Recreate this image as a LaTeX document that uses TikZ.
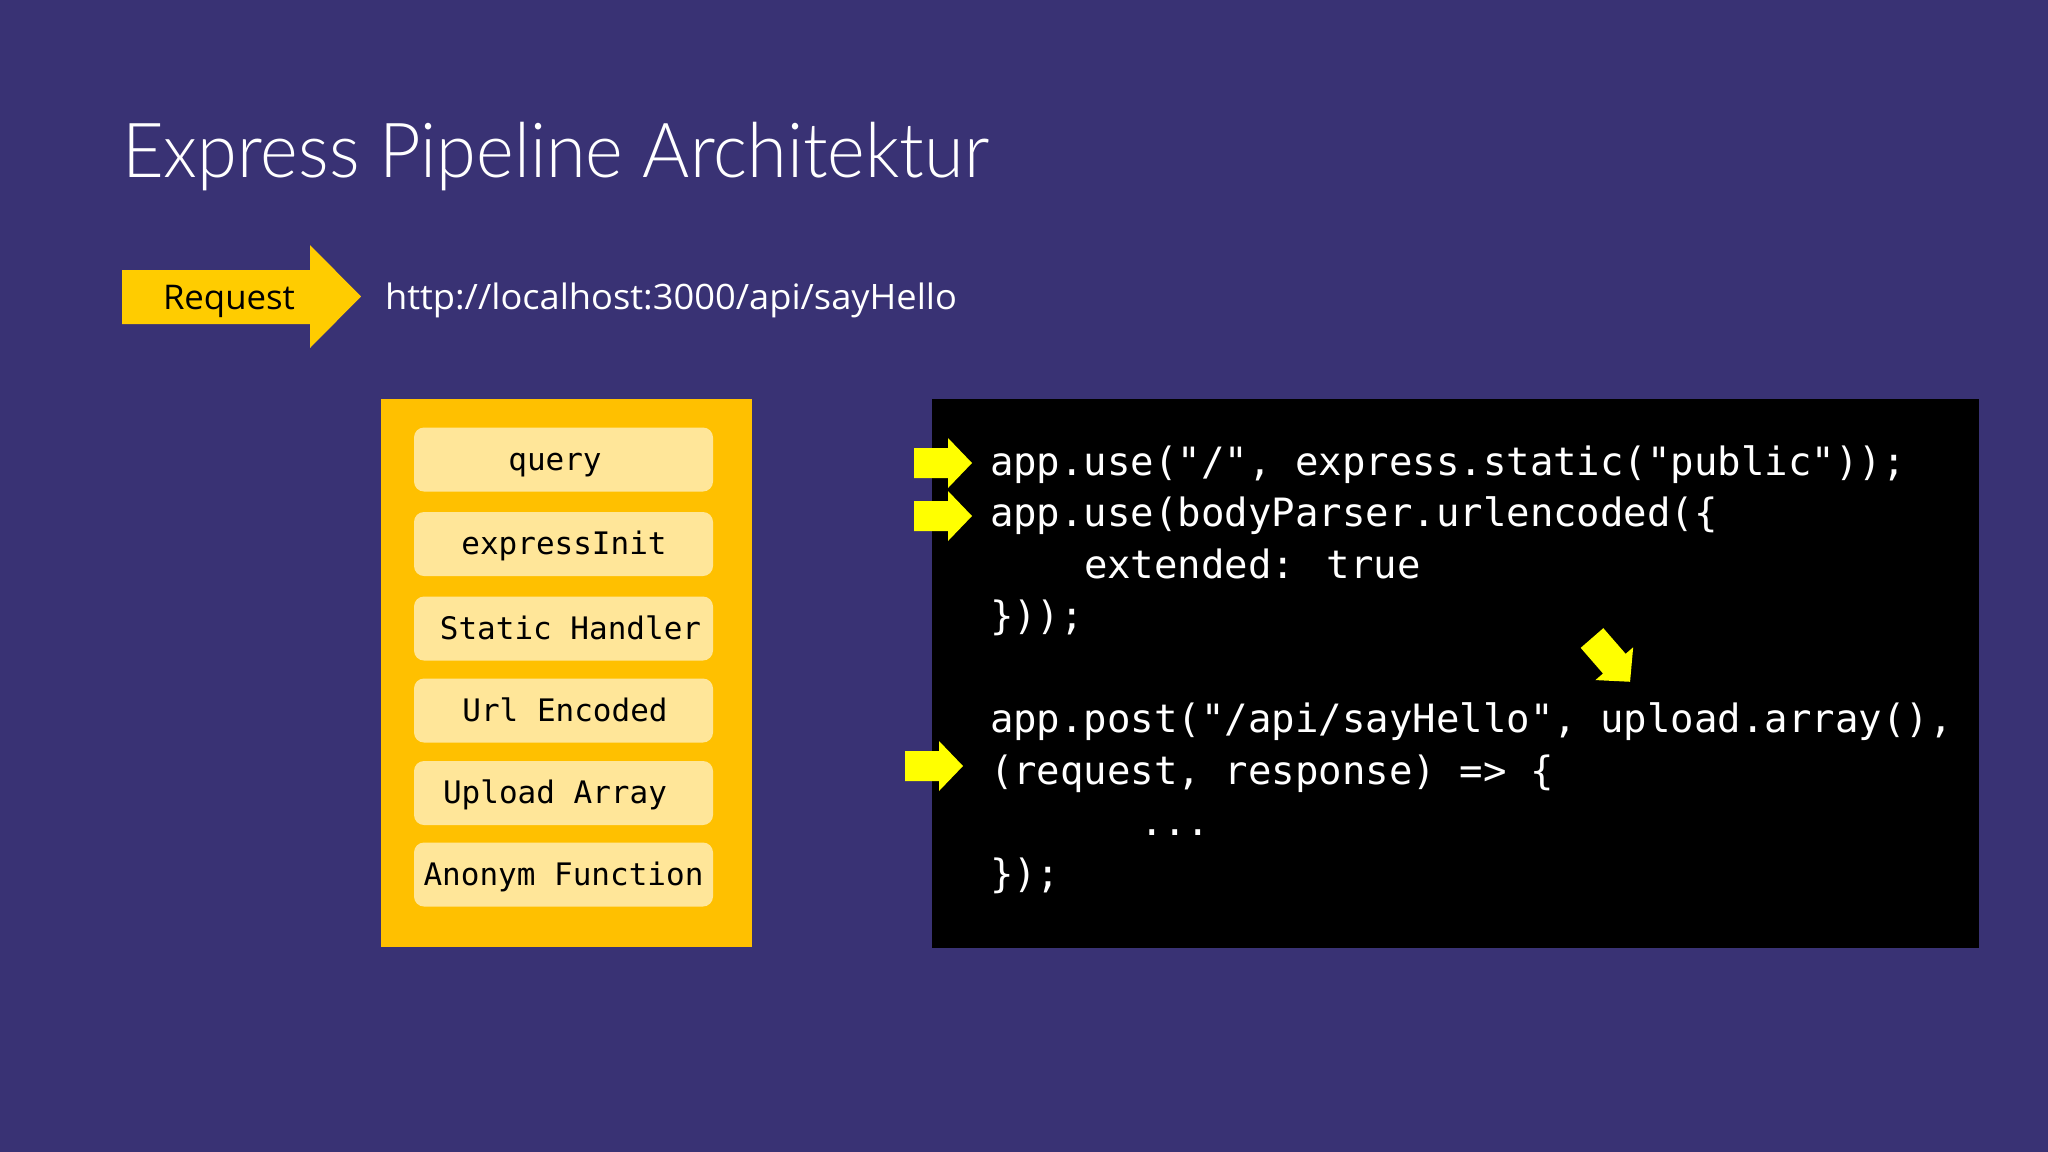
\documentclass[tikz,border=0pt]{standalone}
\usepackage{fontspec}
\setmainfont{Open Sans}
\IfFontExistsTF{Lato Light}{\newfontfamily\titlefont{Lato Light}}{\newfontfamily\titlefont{Open Sans}}
\newfontfamily\codefont{DejaVu Sans Mono}
\usepackage{graphicx}
\definecolor{bgcol}{HTML}{393274}
\definecolor{panelcol}{HTML}{FFC000}
\definecolor{stagecol}{HTML}{FFE699}
\definecolor{reqcol}{HTML}{FFCC00}
\definecolor{markcol}{HTML}{FFFF00}
\newsavebox\fitbox
\newdimen\fitdim
\newcommand\fitw[2]{\sbox\fitbox{#2}\fitdim=\wd\fitbox\pgfmathsetmacro\fitfac{#1/\fitdim}\scalebox{\fitfac}[1]{\usebox\fitbox}}
\newcommand\markarrow[3]{\fill[markcol, shift={(#1,#2)}, rotate=#3] (0,-15) -- (34,-15) -- (34,-25) -- (58,0) -- (34,25) -- (34,15) -- (0,15) -- cycle;}
\begin{document}
\begin{tikzpicture}[x=1pt,y=-1pt,
  txt/.style={inner sep=0pt, outer sep=0pt},
  stagebox/.style={fill=stagecol, rounded corners=10pt, minimum width=299pt, minimum height=64pt, inner sep=0pt},
  stagetext/.style={txt, anchor=base, font=\codefont\fontsize{31}{34}\selectfont, text=black},
  codeline/.style={txt, anchor=base west, font=\codefont\fontsize{39}{42}\selectfont, text=white}]
\useasboundingbox (0,0) rectangle (2048,1151.9);
\fill[bgcol] (-2,-2) rectangle (2050,1154);
% title
\node[txt, anchor=base west, text=white, font=\titlefont\fontsize{76}{80}\selectfont] (title) at (122,177) {\fitw{867}{Express Pipeline Architektur}};
% request arrow
\fill[reqcol] (122,270) -- (310,270) -- (310,245) -- (361,296.5) -- (310,348) -- (310,324) -- (122,324) -- cycle;
\node[txt, anchor=base, text=black, font=\fontsize{34}{38}\selectfont] (req) at (229,309) {\fitw{132}{Request}};
\node[txt, anchor=base west, text=white, font=\fontsize{35}{40}\selectfont] (url) at (385,309) {\fitw{572}{http://localhost:3000/api/sayHello}};
% pipeline panel
\fill[panelcol] (381,399) rectangle (752,947);
\node[stagebox] (b1) at (563.5,459.5) {};
\node[stagebox] (b2) at (563.5,544) {};
\node[stagebox] (b3) at (563.5,628.5) {};
\node[stagebox] (b4) at (563.5,710.5) {};
\node[stagebox] (b5) at (563.5,793) {};
\node[stagebox] (b6) at (563.5,874.5) {};
\node[stagetext] (t1) at (555,470) {query};
\node[stagetext] (t2) at (564,554.5) {expressInit};
\node[stagetext] (t3) at (570.5,639) {Static Handler};
\node[stagetext] (t4) at (565,721) {Url Encoded};
\node[stagetext] (t5) at (555,803.5) {Upload Array};
\node[stagetext] (t6) at (563.5,885) {Anonym Function};
% code panel
\fill[black] (932,399) rectangle (1979,948);
\node[codeline] (c1) at (990,475) {app.use("/", express.static("public"));};
\node[codeline] (c2) at (990,526.5) {app.use(bodyParser.urlencoded(\{};
\node[codeline] (c3) at (1084,578) {extended: true};
\node[codeline] (c4) at (990,629.5) {\}));};
\node[codeline] (c6) at (990,732.5) {app.post("/api/sayHello", upload.array(),};
\node[codeline] (c7) at (990,784) {(request, response) => \{};
\node[codeline] (c8) at (1140,835.5) {...};
\node[codeline] (c9) at (990,887) {\});};
% markers
\markarrow{914}{463}{0}
\markarrow{914}{516}{0}
\markarrow{905}{766}{0}
\markarrow{1592}{638}{-49}
\end{tikzpicture}
\end{document}
